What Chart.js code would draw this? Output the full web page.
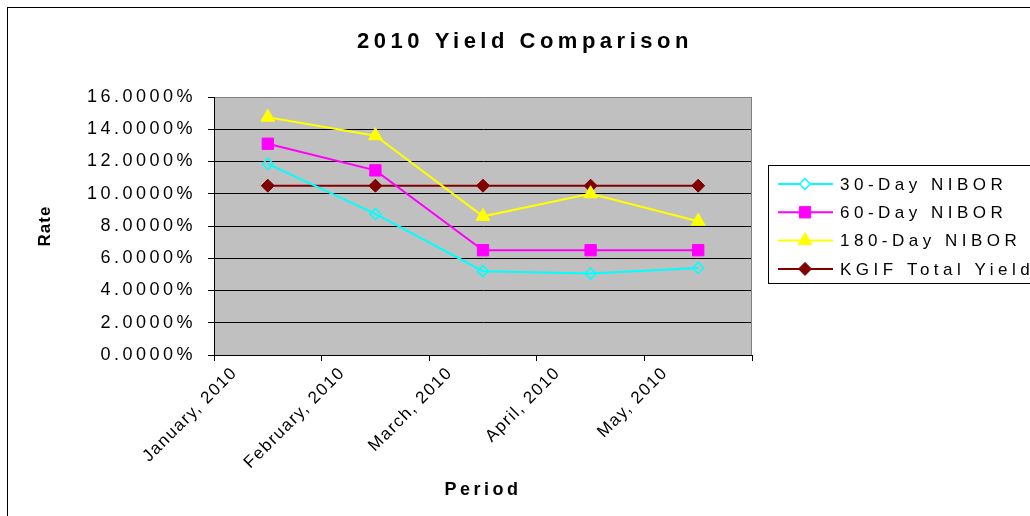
<!DOCTYPE html>
<html>
<head>
<meta charset="utf-8">
<title>2010 Yield Comparison</title>
<script src="https://cdn.jsdelivr.net/npm/chart.js@4.4.1/dist/chart.umd.min.js"></script>
<style>
  html, body { margin: 0; padding: 0; background: #fff; }
  #chart { display: block; }
</style>
</head>
<body>
<canvas id="chart" width="1030" height="516"></canvas>
<script>
// data (rates in %)
const chartTitle = '2010 Yield Comparison';
const periods = ['January, 2010', 'February, 2010', 'March, 2010', 'April, 2010', 'May, 2010'];
const nibor30 = [11.85, 8.75, 5.2, 5.05, 5.4];
const nibor60 = [13.1, 11.45, 6.5, 6.5, 6.5];
const nibor180 = [14.75, 13.6, 8.6, 10.0, 8.3];
const kgifYield = [10.5, 10.5, 10.5, 10.5, 10.5];
const seriesNames = ['30-Day NIBOR', '60-Day NIBOR', '180-Day NIBOR', 'KGIF Total Yield'];
const rateMin = 0;
const rateMax = 16;
const rateStep = 2;

const FONT = '"Liberation Sans", Arial, sans-serif';

// background, frame, title, y title and legend
const frame = {
    id: 'frame',
    beforeDraw(chart) {
        const { ctx, chartArea: a } = chart;
        ctx.save();
        ctx.fillStyle = '#fff';
        ctx.fillRect(0, 0, chart.width, chart.height);
        ctx.fillStyle = '#c0c0c0';
        ctx.fillRect(a.left, a.top, a.right - a.left, a.bottom - a.top);
        ctx.restore();
        ctx.letterSpacing = '3.5px';
    },
    afterDatasetsDraw(chart) {
        // x tick labels are drawn after the datasets (z: 1)
        chart.ctx.letterSpacing = '1.5px';
    },
    afterDraw(chart) {
        const { ctx, chartArea: a } = chart;
        ctx.save();
        ctx.lineWidth = 1;
        ctx.strokeStyle = '#808080';
        ctx.beginPath();
        ctx.moveTo(a.right - 0.5, a.top);
        ctx.lineTo(a.right - 0.5, a.bottom);
        ctx.stroke();

        ctx.strokeStyle = '#000';
        ctx.strokeRect(7.5, 7.5, chart.width + 20, chart.height + 20);

        ctx.fillStyle = '#000';
        ctx.textAlign = 'center';
        ctx.textBaseline = 'middle';
        ctx.letterSpacing = '4.5px';
        ctx.font = 'bold 22px ' + FONT;
        ctx.fillText(chartTitle, 525, 42);

        ctx.save();
        ctx.letterSpacing = '1px';
        ctx.font = 'bold 17px ' + FONT;
        ctx.translate(45, (a.top + a.bottom) / 2);
        ctx.rotate(-Math.PI / 2);
        ctx.fillText('Rate', 0, 0);
        ctx.restore();

        // legend
        ctx.strokeStyle = '#000';
        ctx.strokeRect(768.5, 165.5, 300, 118);
        ctx.letterSpacing = '4.5px';
        ctx.font = '17px ' + FONT;
        ctx.textAlign = 'left';
        chart.data.datasets.forEach((ds, i) => {
            const y = 184 + i * 28.3;
            ctx.strokeStyle = ds.borderColor;
            ctx.lineWidth = 2;
            ctx.beginPath();
            ctx.moveTo(778, y);
            ctx.lineTo(833, y);
            ctx.stroke();
            ctx.fillStyle = ds.pointBackgroundColor === 'transparent' ? '#fff' : ds.pointBackgroundColor;
            ctx.strokeStyle = ds.pointBorderColor;
            ctx.lineWidth = ds.pointBorderWidth;
            Chart.helpers.drawPoint(ctx, {
                pointStyle: ds.pointStyle,
                radius: ds.pointRadius,
                borderWidth: ds.pointBorderWidth,
                rotation: 0,
            }, 805, y);
            ctx.fillStyle = '#000';
            ctx.fillText(ds.label, 840, y + 1);
        });
        ctx.restore();
        ctx.letterSpacing = '0px';
    },
};

const ctx = document.getElementById('chart').getContext('2d');
new Chart(ctx, {
    type: 'line',
    data: {
        labels: periods,
        datasets: [
            {
                label: seriesNames[0],
                data: nibor30,
                borderColor: '#00ffff',
                borderWidth: 2,
                pointStyle: 'rectRot',
                pointRadius: 5.5,
                pointBackgroundColor: 'transparent',
                pointBorderColor: '#00ffff',
                pointBorderWidth: 1.5,
            },
            {
                label: seriesNames[1],
                data: nibor60,
                borderColor: '#ff00ff',
                borderWidth: 2,
                pointStyle: 'rect',
                pointRadius: 8,
                pointBackgroundColor: '#ff00ff',
                pointBorderColor: '#ff00ff',
                pointBorderWidth: 1,
            },
            {
                label: seriesNames[2],
                data: nibor180,
                borderColor: '#ffff00',
                borderWidth: 2,
                pointStyle: 'triangle',
                pointRadius: 8,
                pointBackgroundColor: '#ffff00',
                pointBorderColor: '#ffff00',
                pointBorderWidth: 1,
            },
            {
                label: seriesNames[3],
                data: kgifYield,
                borderColor: '#800000',
                borderWidth: 2,
                pointStyle: 'rectRot',
                pointRadius: 6.5,
                pointBackgroundColor: '#800000',
                pointBorderColor: '#800000',
                pointBorderWidth: 1,
            },
        ],
    },
    options: {
        responsive: false,
        animation: false,
        devicePixelRatio: 1,
        layout: {
            padding: { left: 8, top: 97, right: 278, bottom: 8 },
        },
        elements: {
            line: { tension: 0 },
        },
        scales: {
            x: {
                offset: true,
                grid: {
                    offset: true,
                    drawOnChartArea: false,
                    color: '#000',
                    tickLength: 6,
                },
                border: { color: '#000', width: 1 },
                ticks: {
                    autoSkip: false,
                    minRotation: 45,
                    maxRotation: 45,
                    labelOffset: -33,
                    padding: 2,
                    color: '#000',
                    font: { family: FONT, size: 17 },
                    z: 1,
                },
                title: {
                    display: true,
                    text: 'Period',
                    color: '#000',
                    font: { family: FONT, size: 18, weight: 'bold' },
                    padding: { top: 0, bottom: 7 },
                },
                afterFit(scale) {
                    scale.height = 153;
                },
            },
            y: {
                min: rateMin,
                max: rateMax,
                ticks: {
                    stepSize: rateStep,
                    padding: 12,
                    color: '#000',
                    font: { family: FONT, size: 18 },
                    callback: value => value.toFixed(4) + '%',
                },
                grid: {
                    color: c => (c.tick && c.tick.value === rateMax ? '#808080' : '#000'),
                    tickColor: '#000',
                    tickLength: 6,
                },
                border: { color: '#000', width: 1 },
                afterFit(scale) {
                    scale.width = 206;
                },
            },
        },
        plugins: {
            legend: { display: false },
            title: { display: false },
            tooltip: { enabled: false },
        },
    },
    plugins: [frame],
});
</script>
</body>
</html>
